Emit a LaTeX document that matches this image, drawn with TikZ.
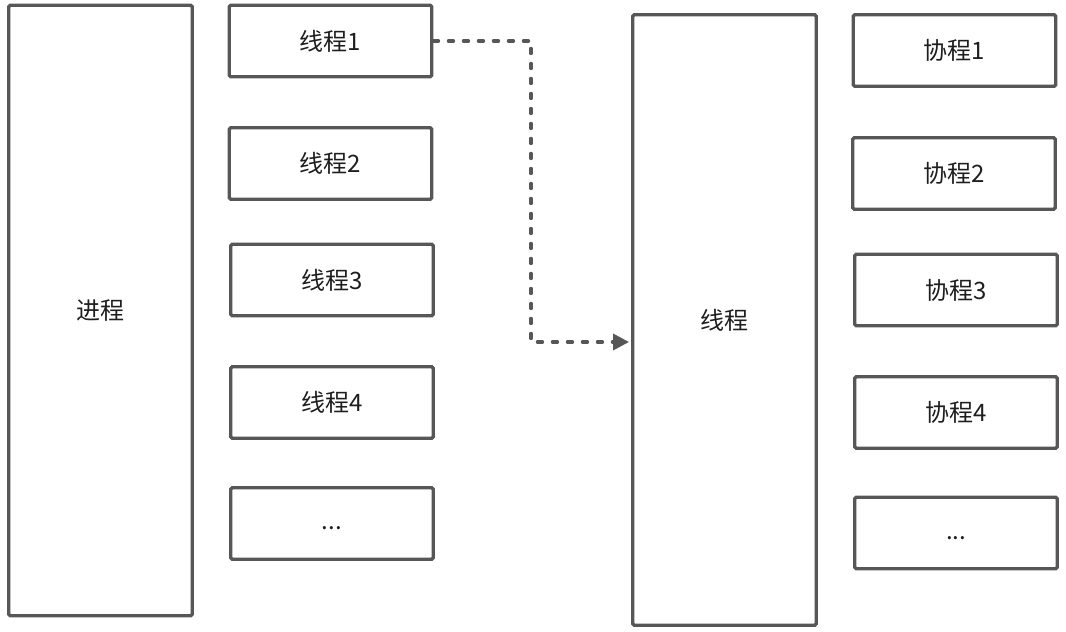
\documentclass[tikz,border=0pt]{standalone}
\usepackage{fontspec}
\newfontfamily\cjk{Noto Sans CJK SC}
\usetikzlibrary{arrows.meta,calc}
\definecolor{boxline}{HTML}{575757}
\definecolor{txt}{HTML}{1E1E1E}
\tikzset{
  box/.style={draw=boxline, line width=3.4pt, rounded corners=1.5pt, fill=white,
    inner sep=0pt, text=txt, font=\cjk\fontsize{24}{27}\selectfont},
  small/.style={box, minimum width=202.5pt, minimum height=71.5pt},
  tall/.style={box, minimum width=183.5pt, minimum height=610.5pt},
  link/.style={draw=boxline, line width=3.4pt, dash pattern=on 5pt off 10pt, line cap=round,
    -{Triangle[length=16pt,width=16pt,line cap=butt]}, shorten >=2pt}
}
\newcommand{\dotsdown}{\raisebox{-6pt}[0pt][0pt]{...}}
\begin{document}
\begin{tikzpicture}[x=1pt,y=-1pt]
\useasboundingbox (0,0) rectangle (1066,632);
\node[tall] (proc) at (100.5,310.5) {进程};
\node[small] (t1) at (330.5,41) {线程1};
\node[small] (t2) at (330.5,163.5) {线程2};
\node[small] (t3) at (332,280) {线程3};
\node[small] (t4) at (332,402.5) {线程4};
\node[small] (t5) at (332,523.5) {\dotsdown};
\node[tall] (mid) at (724.5,320) {线程};
\node[small] (c1) at (954.5,50.5) {协程1};
\node[small] (c2) at (954,173.5) {协程2};
\node[small] (c3) at (956,290) {协程3};
\node[small] (c4) at (956,412.5) {协程4};
\node[small] (c5) at (956,533) {\dotsdown};
\coordinate (bend) at (531,41);
\draw[link] (t1.east) -- (bend) |- ($(mid.west)+(0,22)$);
\end{tikzpicture}
\end{document}
